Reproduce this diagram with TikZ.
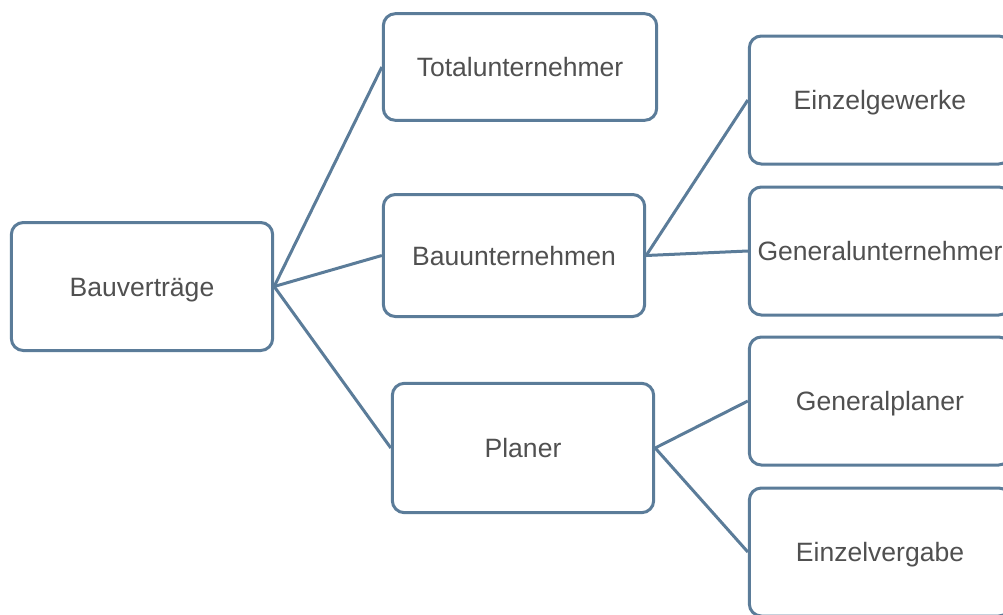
\documentclass[tikz,border=0pt]{standalone}
\usepackage{fontspec}
\setmainfont{Liberation Sans}
\usetikzlibrary{positioning}
\definecolor{boxblue}{RGB}{91,124,153}
\definecolor{textgrey}{RGB}{80,80,80}

\begin{document}
\begin{tikzpicture}[x=0.75pt, y=-0.75pt,
		box/.style={draw=boxblue, line width=2.25pt, rounded corners=9pt, fill=white,
			text=textgrey, font=\fontsize{19.9}{24}\selectfont, inner sep=0pt,
			text height=14.25pt, text depth=0pt,
			minimum width=196pt, minimum height=96pt},
		link/.style={draw=boxblue, line width=2.25pt}]
		\path[use as bounding box, clip] (0,0) rectangle (1003,614);
		
		\node[box] (vertraege) at (142,286.5) {Bauverträge};
		
		\node[box, minimum width=205pt, minimum height=80pt] (total) at (520,67) {Totalunternehmer};
		\node[box, minimum height=91.5pt] (bauunt) at (514,255.5) {Bauunternehmen};
		\node[box, minimum height=97pt] (planer) at (523,448) {Planer};
		
		\begin{scope}[every node/.append style={minimum height=95pt}]
			\node[box] (einzelgew) at (880,100) {Einzelgewerke};
			\node[box] (generalu) at (880,251) {Generalunternehmer};
			\node[box] (generalp) at (880,401) {Generalplaner};
			\node[box] (einzelverg) at (880,552) {Einzelvergabe};
		\end{scope}
		
		\begin{scope}[link]
			\draw (vertraege.east) -- (total.west);
			\draw (vertraege.east) -- (bauunt.west);
			\draw (vertraege.east) -- (planer.west);
			\draw (bauunt.east) -- (einzelgew.west);
			\draw (bauunt.east) -- (generalu.west);
			\draw (planer.east) -- (generalp.west);
			\draw (planer.east) -- (einzelverg.west);
		\end{scope}
	\end{tikzpicture}
\end{document}
